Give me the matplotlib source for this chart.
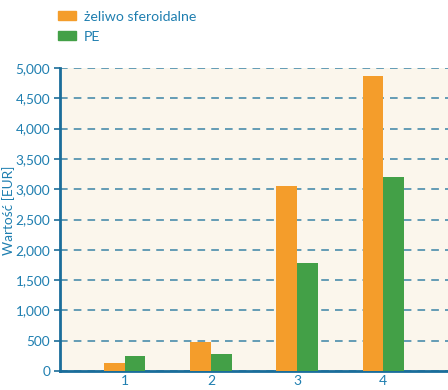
import matplotlib
matplotlib.use("Agg")
import matplotlib.pyplot as plt
from matplotlib.patches import Patch
from matplotlib.ticker import FuncFormatter

categories = ["1", "2", "3", "4"]
zeliwo = [127, 478, 3053, 4873]
pe = [242, 275, 1782, 3201]
series_names = ["żeliwo sferoidalne", "PE"]
yticks = [0, 500, 1000, 1500, 2000, 2500, 3000, 3500, 4000, 4500, 5000]

plt.rcParams['font.family'] = ['Lato', 'DejaVu Sans']
txt = "#1f7fb0"
orange = "#F49D2B"
green = "#43A047"

fig = plt.figure(figsize=(4.48, 3.9), dpi=100)
ax = fig.add_axes([60/448, 19/390, 388/448, 303/390])
ax.set_facecolor("#FBF6EC")

x = list(range(1, len(categories) + 1))
w = 0.24
ax.bar([i - w/2 for i in x], zeliwo, width=w, color=orange, zorder=3)
ax.bar([i + w/2 for i in x], pe, width=w, color=green, zorder=3)

ax.set_xlim(0.25, 4.75)
ax.set_ylim(0, 5000)
ax.set_xticks(x)
ax.set_xticklabels(categories)
ax.set_yticks(yticks)
ax.yaxis.set_major_formatter(FuncFormatter(lambda v, p: f"{int(v):,}"))
ax.grid(axis='y', color="#3a84a6", linestyle=(0, (5, 4)), linewidth=1.1, zorder=1)
ax.tick_params(axis='x', length=0, colors=txt, labelsize=10, pad=3)
ax.tick_params(axis='y', length=4, pad=3, width=1.2, color="#1a6d9a",
               labelcolor=txt, labelsize=9.8)
for s in ['top', 'right']:
    ax.spines[s].set_visible(False)
for s in ['left', 'bottom']:
    ax.spines[s].set_color("#1a6d9a")
    ax.spines[s].set_linewidth(2)
fig.text(9/448, 1 - 210/390, "Wartość [EUR]", color=txt, fontsize=9.8,
         rotation=90, ha='center', va='center')

handles = [Patch(color=orange), Patch(color=green)]
fig.legend(handles, series_names, loc='upper left', bbox_to_anchor=(45/448, 1.0 + 2/390),
           frameon=False, fontsize=10.2, labelcolor=txt, handlelength=1.3,
           handleheight=0.55, labelspacing=0.55, handletextpad=0.55)

fig.savefig("out.png", dpi=100, facecolor="white")
